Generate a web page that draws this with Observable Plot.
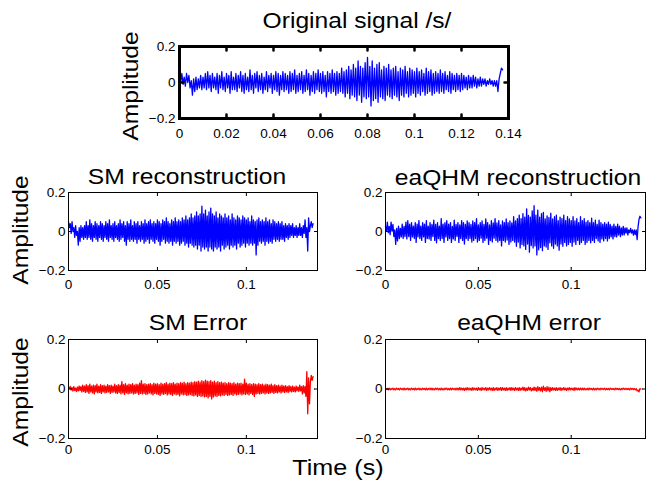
<!DOCTYPE html>
<html><head><meta charset="utf-8">
<script src="https://cdn.jsdelivr.net/npm/d3@7"></script>
<script src="https://cdn.jsdelivr.net/npm/@observablehq/plot@0.6"></script>
<style>
html,body{margin:0;padding:0;background:#fff;}
#fig{position:relative;width:656px;height:483px;overflow:hidden;font-family:"Liberation Sans",Arial,sans-serif;}
#fig svg.panel{position:absolute;}
#labels{position:absolute;left:0;top:0;}
</style></head><body><div id="fig"></div>
<script>
// ---- data (amplitude samples, one every 0.5 ms) ----
const sampleStep = 0.0005; // s
const xTicksTop = [0, 0.02, 0.04, 0.06, 0.08, 0.1, 0.12, 0.14];
const xTicksSub = [0, 0.05, 0.1];
const yTicks = [-0.2, 0, 0.2];
const titles = ["Original signal /s/", "SM reconstruction", "eaQHM reconstruction", "SM Error", "eaQHM error"];

const originalSignal = [
 0.03,0.00, 0.05,-0.01, 0.03,-0.02, 0.05,0.00, 0.04,-0.03, 0.01,-0.07, 0.02,-0.05, 0.03,-0.04, 0.02,-0.03, 0.04,-0.04,
 0.03,-0.03, 0.05,-0.04, 0.06,-0.03, 0.04,-0.05, 0.05,-0.03, 0.03,-0.04, 0.05,-0.06, 0.04,-0.03, 0.06,-0.04, 0.03,-0.05,
 0.05,-0.03, 0.04,-0.06, 0.06,-0.04, 0.03,-0.04, 0.05,-0.05, 0.04,-0.03, 0.06,-0.05, 0.04,-0.06, 0.05,-0.04, 0.03,-0.05,
 0.07,-0.04, 0.04,-0.06, 0.05,-0.03, 0.06,-0.05, 0.04,-0.04, 0.05,-0.06, 0.03,-0.04, 0.06,-0.05, 0.04,-0.03, 0.05,-0.06,
 0.04,-0.04, 0.06,-0.05, 0.05,-0.07, 0.04,-0.04, 0.06,-0.05, 0.05,-0.04, 0.04,-0.06, 0.06,-0.05, 0.05,-0.04, 0.07,-0.06,
 0.04,-0.05, 0.05,-0.04, 0.06,-0.06, 0.04,-0.05, 0.07,-0.04, 0.05,-0.07, 0.04,-0.05, 0.06,-0.06, 0.05,-0.04, 0.07,-0.05,
 0.05,-0.06, 0.06,-0.05, 0.04,-0.08, 0.06,-0.05, 0.05,-0.06, 0.07,-0.05, 0.05,-0.07, 0.06,-0.06, 0.05,-0.05, 0.08,-0.06,
 0.06,-0.08, 0.07,-0.06, 0.09,-0.09, 0.07,-0.07, 0.10,-0.08, 0.08,-0.10, 0.12,-0.07, 0.09,-0.11, 0.08,-0.08, 0.11,-0.09,
 0.14,-0.08, 0.09,-0.13, 0.12,-0.10, 0.08,-0.09, 0.10,-0.11, 0.11,-0.08, 0.07,-0.09, 0.09,-0.10, 0.08,-0.07, 0.10,-0.08,
 0.07,-0.09, 0.08,-0.07, 0.09,-0.08, 0.06,-0.10, 0.08,-0.07, 0.07,-0.08, 0.09,-0.06, 0.06,-0.08, 0.08,-0.07, 0.07,-0.06,
 0.06,-0.08, 0.08,-0.06, 0.06,-0.07, 0.07,-0.05, 0.05,-0.07, 0.08,-0.06, 0.06,-0.05, 0.07,-0.07, 0.05,-0.06, 0.06,-0.05,
 0.05,-0.06, 0.07,-0.05, 0.05,-0.06, 0.06,-0.04, 0.04,-0.05, 0.06,-0.06, 0.05,-0.04, 0.04,-0.05, 0.05,-0.04, 0.04,-0.05,
 0.05,-0.04, 0.04,-0.03, 0.03,-0.04, 0.04,-0.03, 0.03,-0.03, 0.04,-0.02, 0.03,-0.03, 0.02,-0.02, 0.03,-0.02, 0.02,-0.01,
 0.02,-0.02, 0.01,-0.01, 0.02,-0.01, 0.01,-0.02, 0.01,-0.02, 0.01,-0.05, 0.02,0.05, 0.08,0.07
];

const smReconstruction = [
 0.05,0.02, 0.04,-0.01, 0.05,0.00, 0.02,-0.03, 0.03,-0.02, 0.00,-0.07, 0.02,-0.05, 0.03,-0.03, 0.02,-0.04, 0.03,-0.03,
 0.05,-0.04, 0.03,-0.03, 0.06,-0.04, 0.04,-0.05, 0.03,-0.03, 0.05,-0.04, 0.04,-0.05, 0.03,-0.03, 0.05,-0.04, 0.04,-0.05,
 0.03,-0.03, 0.05,-0.04, 0.04,-0.05, 0.06,-0.03, 0.03,-0.04, 0.04,-0.05, 0.05,-0.03, 0.03,-0.04, 0.04,-0.05, 0.06,-0.04,
 0.04,-0.03, 0.05,-0.05, 0.03,-0.07, 0.05,-0.04, 0.04,-0.05, 0.06,-0.04, 0.03,-0.05, 0.05,-0.04, 0.04,-0.06, 0.05,-0.04,
 0.03,-0.05, 0.05,-0.04, 0.04,-0.06, 0.06,-0.05, 0.04,-0.04, 0.05,-0.06, 0.06,-0.04, 0.04,-0.05, 0.05,-0.06, 0.04,-0.04,
 0.06,-0.05, 0.05,-0.07, 0.04,-0.05, 0.06,-0.04, 0.05,-0.06, 0.07,-0.05, 0.05,-0.06, 0.04,-0.05, 0.06,-0.07, 0.05,-0.05,
 0.07,-0.06, 0.05,-0.05, 0.06,-0.07, 0.05,-0.06, 0.07,-0.05, 0.06,-0.07, 0.08,-0.06, 0.06,-0.08, 0.07,-0.06, 0.09,-0.07,
 0.07,-0.08, 0.08,-0.07, 0.10,-0.09, 0.08,-0.07, 0.09,-0.10, 0.13,-0.08, 0.09,-0.09, 0.11,-0.08, 0.08,-0.10, 0.10,-0.08,
 0.12,-0.09, 0.09,-0.10, 0.08,-0.08, 0.10,-0.09, 0.07,-0.08, 0.09,-0.10, 0.08,-0.07, 0.07,-0.09, 0.09,-0.08, 0.07,-0.07,
 0.08,-0.09, 0.06,-0.07, 0.09,-0.08, 0.07,-0.07, 0.06,-0.09, 0.08,-0.06, 0.07,-0.08, 0.06,-0.07, 0.08,-0.06, 0.07,-0.08,
 0.06,-0.06, 0.07,-0.07, 0.05,-0.06, 0.08,-0.07, 0.06,-0.06, 0.05,-0.12, 0.06,-0.07, 0.07,-0.05, 0.05,-0.06, 0.06,-0.05,
 0.05,-0.07, 0.07,-0.05, 0.05,-0.06, 0.06,-0.05, 0.04,-0.06, 0.06,-0.04, 0.05,-0.05, 0.04,-0.04, 0.05,-0.05, 0.04,-0.04,
 0.05,-0.04, 0.03,-0.05, 0.04,-0.03, 0.03,-0.04, 0.04,-0.03, 0.03,-0.02, 0.04,-0.03, 0.02,-0.02, 0.03,-0.03, 0.02,-0.02,
 0.04,-0.02, 0.02,-0.03, 0.03,-0.01, 0.06,-0.03, 0.02,-0.10, 0.07,0.00, 0.03,0.05, 0.02,0.04
];

const smError = [
 0.008,0.002, 0.01,-0.004, 0.006,-0.008, 0.01,-0.006, 0.004,-0.01, 0.008,-0.008, 0.012,-0.006, 0.01,-0.012, 0.016,-0.01, 0.012,-0.014,
 0.018,-0.012, 0.014,-0.018, 0.02,-0.012, 0.012,-0.016, 0.016,-0.02, 0.014,-0.012, 0.02,-0.016, 0.012,-0.014, 0.018,-0.018, 0.014,-0.012,
 0.016,-0.016, 0.012,-0.014, 0.018,-0.012, 0.014,-0.018, 0.016,-0.014, 0.012,-0.012, 0.02,-0.016, 0.014,-0.018, 0.018,-0.014, 0.016,-0.02,
 0.03,-0.016, 0.018,-0.022, 0.022,-0.016, 0.016,-0.02, 0.02,-0.018, 0.018,-0.016, 0.022,-0.02, 0.016,-0.018, 0.02,-0.016, 0.018,-0.022,
 0.024,-0.018, 0.034,-0.02, 0.02,-0.018, 0.022,-0.022, 0.018,-0.02, 0.02,-0.016, 0.022,-0.02, 0.018,-0.024, 0.024,-0.018, 0.02,-0.02,
 0.022,-0.022, 0.018,-0.026, 0.024,-0.02, 0.02,-0.022, 0.022,-0.018, 0.026,-0.024, 0.02,-0.02, 0.024,-0.022, 0.022,-0.026, 0.026,-0.02,
 0.02,-0.024, 0.024,-0.022, 0.022,-0.028, 0.026,-0.02, 0.024,-0.024, 0.028,-0.022, 0.022,-0.026, 0.026,-0.024, 0.024,-0.022, 0.028,-0.026,
 0.026,-0.028, 0.03,-0.024, 0.028,-0.03, 0.032,-0.026, 0.028,-0.03, 0.034,-0.028, 0.03,-0.032, 0.036,-0.03, 0.032,-0.036, 0.03,-0.03,
 0.034,-0.04, 0.028,-0.032, 0.032,-0.028, 0.026,-0.03, 0.03,-0.026, 0.026,-0.028, 0.028,-0.024, 0.024,-0.026, 0.026,-0.022, 0.022,-0.026,
 0.026,-0.024, 0.024,-0.022, 0.022,-0.026, 0.026,-0.02, 0.02,-0.024, 0.024,-0.022, 0.022,-0.02, 0.024,-0.024, 0.02,-0.02, 0.04,-0.022,
 0.024,-0.02, 0.02,-0.024, 0.022,-0.018, 0.018,-0.022, 0.022,-0.03, 0.02,-0.02, 0.018,-0.018, 0.022,-0.02, 0.018,-0.018, 0.02,-0.016,
 0.016,-0.02, 0.02,-0.016, 0.018,-0.018, 0.016,-0.016, 0.02,-0.014, 0.014,-0.018, 0.018,-0.014, 0.014,-0.016, 0.016,-0.012, 0.012,-0.016,
 0.016,-0.012, 0.012,-0.014, 0.014,-0.012, 0.01,-0.014, 0.014,-0.01, 0.01,-0.012, 0.012,-0.01, 0.008,-0.012, 0.012,-0.008, 0.008,-0.01,
 0.016,-0.008, 0.01,-0.02, 0.014,-0.016, 0.01,-0.03, 0.07,-0.10, 0.045,-0.06, 0.03,0.055, 0.035,0.05
];

const eaqhmError = [
 0.004,-0.002, 0.002,-0.004, 0.004,-0.004, 0.002,-0.002, 0.004,-0.004, 0.002,-0.004, 0.004,-0.002, 0.002,-0.004, 0.004,-0.002, 0.002,-0.004,
 0.004,-0.004, 0.002,-0.002, 0.004,-0.004, 0.002,-0.004, 0.004,-0.002, 0.002,-0.004, 0.004,-0.004, 0.002,-0.002, 0.004,-0.004, 0.002,-0.004,
 0.004,-0.002, 0.002,-0.004, 0.004,-0.004, 0.002,-0.002, 0.004,-0.004, 0.004,-0.004, 0.002,-0.004, 0.004,-0.002, 0.004,-0.004, 0.002,-0.004,
 0.004,-0.004, 0.002,-0.004, 0.004,-0.002, 0.004,-0.004, 0.002,-0.004, 0.004,-0.004, 0.004,-0.002, 0.002,-0.004, 0.004,-0.004, 0.004,-0.004,
 0.006,-0.004, 0.004,-0.004, 0.004,-0.006, 0.004,-0.004, 0.006,-0.004, 0.004,-0.004, 0.004,-0.006, 0.006,-0.004, 0.004,-0.004, 0.004,-0.006,
 0.006,-0.004, 0.004,-0.006, 0.006,-0.004, 0.004,-0.004, 0.006,-0.006, 0.004,-0.004, 0.006,-0.004, 0.004,-0.006, 0.006,-0.006, 0.004,-0.004,
 0.006,-0.006, 0.004,-0.004, 0.006,-0.006, 0.006,-0.004, 0.004,-0.006, 0.006,-0.006, 0.004,-0.004, 0.006,-0.006, 0.006,-0.004, 0.004,-0.006,
 0.006,-0.004, 0.004,-0.006, 0.006,-0.006, 0.004,-0.004, 0.008,-0.006, 0.006,-0.008, 0.004,-0.006, 0.008,-0.004, 0.006,-0.008, 0.004,-0.006,
 0.008,-0.006, 0.006,-0.01, 0.01,-0.006, 0.006,-0.008, 0.008,-0.012, 0.012,-0.006, 0.006,-0.01, 0.01,-0.008, 0.008,-0.012, 0.006,-0.006,
 0.006,-0.004, 0.004,-0.006, 0.006,-0.006, 0.004,-0.004, 0.006,-0.006, 0.004,-0.004, 0.006,-0.004, 0.004,-0.006, 0.004,-0.004, 0.006,-0.004,
 0.004,-0.004, 0.004,-0.006, 0.006,-0.004, 0.004,-0.004, 0.004,-0.004, 0.004,-0.004, 0.004,-0.004, 0.004,-0.004, 0.002,-0.004, 0.004,-0.004,
 0.004,-0.002, 0.002,-0.004, 0.004,-0.004, 0.002,-0.004, 0.004,-0.002, 0.002,-0.004, 0.004,-0.002, 0.002,-0.002, 0.004,-0.004, 0.002,-0.002,
 0.002,-0.004, 0.004,-0.002, 0.002,-0.002, 0.002,-0.004, 0.004,-0.002, 0.002,-0.002, 0.002,-0.004, 0.002,-0.002, 0.004,-0.002, 0.002,-0.002,
 0.002,-0.002, 0.002,-0.004, 0.004,-0.002, 0.002,-0.002, 0.002,-0.004, 0.002,-0.008, -0.004,-0.012, 0.002,0.000
];

// eaQHM reconstruction = original signal - eaQHM error
const eaqhmReconstruction = originalSignal.map((v, i) => v - (eaqhmError[i] ?? 0));

// ---- drawing ----
const toRows = (values) => values.map((v, i) => ({t: i * sampleStep, v}));
const fmt = (d) => String(d).replace("-", "\u2212");
const FONT = '"Liberation Sans", Arial, Helvetica, sans-serif';
const fig = document.getElementById("fig");
const M = {l: 50, r: 14, t: 14, b: 30};

function panel(p) {
  const w = p.R - p.L, h = p.B - p.T;
  const tickOpts = {anchor: "start", length: p.tickLen, r: 0, stroke: "black", strokeWidth: p.tickW};
  const chart = Plot.plot({
    width: w + M.l + M.r, height: h + M.t + M.b,
    marginLeft: M.l, marginRight: M.r, marginTop: M.t, marginBottom: M.b,
    style: {fontFamily: FONT, fontSize: "13.5px", background: "transparent", overflow: "visible", color: "black"},
    x: {domain: [0, 0.14]},
    y: {domain: [-0.2, 0.2]},
    marks: [
      Plot.line(toRows(p.values), {x: "t", y: "v", stroke: p.color, strokeWidth: p.lineW}),
      Plot.axisX({ticks: p.xTicks, tickSize: 0, tickPadding: p.xPad, tickFormat: fmt, fontSize: 13.5, label: null}),
      Plot.axisY({ticks: yTicks, tickSize: 0, tickPadding: p.yPad, tickFormat: fmt, fontSize: 13.5, label: null}),
      Plot.vector(p.xTicks, {x: d => d, frameAnchor: "bottom", rotate: 0, ...tickOpts}),
      Plot.vector(p.xTicks, {x: d => d, frameAnchor: "top", rotate: 180, ...tickOpts}),
      Plot.vector(yTicks, {y: d => d, frameAnchor: "left", rotate: 90, ...tickOpts}),
      Plot.vector(yTicks, {y: d => d, frameAnchor: "right", rotate: -90, ...tickOpts}),
      Plot.frame({stroke: "black", strokeWidth: p.frameW})
    ]
  });
  chart.classList.add("panel");
  chart.style.left = (p.L - M.l) + "px";
  chart.style.top = (p.T - M.t) + "px";
  fig.append(chart);
}

panel({values: originalSignal, color: "#0000ff", lineW: 1.3, xTicks: xTicksTop, L: 179, R: 508, T: 46, B: 118, frameW: 3, tickLen: 4, tickW: 2.5, xPad: 10, yPad: 4});
panel({values: smReconstruction, color: "#0000ff", lineW: 1.3, xTicks: xTicksSub, L: 68, R: 317, T: 192, B: 270, frameW: 1, tickLen: 3, tickW: 1, xPad: 9, yPad: 3});
panel({values: eaqhmReconstruction, color: "#0000ff", lineW: 1.3, xTicks: xTicksSub, L: 385, R: 645, T: 192, B: 270, frameW: 1, tickLen: 3, tickW: 1, xPad: 9, yPad: 3});
panel({values: smError, color: "#ff0000", lineW: 1.3, xTicks: xTicksSub, L: 68, R: 317, T: 339, B: 438, frameW: 1, tickLen: 3, tickW: 1, xPad: 6, yPad: 3});
panel({values: eaqhmError, color: "#ff0000", lineW: 1.2, xTicks: xTicksSub, L: 385, R: 645, T: 339, B: 438, frameW: 1, tickLen: 3, tickW: 1, xPad: 6, yPad: 3});

// titles and axis labels
const NS = "http://www.w3.org/2000/svg";
const lab = document.createElementNS(NS, "svg");
lab.setAttribute("id", "labels");
lab.setAttribute("width", 656); lab.setAttribute("height", 483);
fig.append(lab);
function addText(str, x, y, rotate, size) {
  const t = document.createElementNS(NS, "text");
  t.textContent = str;
  t.setAttribute("text-anchor", "middle");
  t.setAttribute("font-family", FONT);
  t.setAttribute("font-size", size);
  t.setAttribute("fill", "black");
  t.setAttribute("transform", `translate(${x},${y}) rotate(${rotate}) scale(1.12,1)`);
  lab.append(t);
}
const titlePos = [[357, 28], [187, 184], [518, 185], [198, 330], [529, 330]];
titles.forEach((s, i) => addText(s, titlePos[i][0], titlePos[i][1], 0, 22));
addText("Amplitude", 138, 86, -90, 22);
addText("Amplitude", 28, 230, -90, 22);
addText("Amplitude", 28, 392, -90, 22);
addText("Time (s)", 338, 475, 0, 22.5);
</script></body></html>
